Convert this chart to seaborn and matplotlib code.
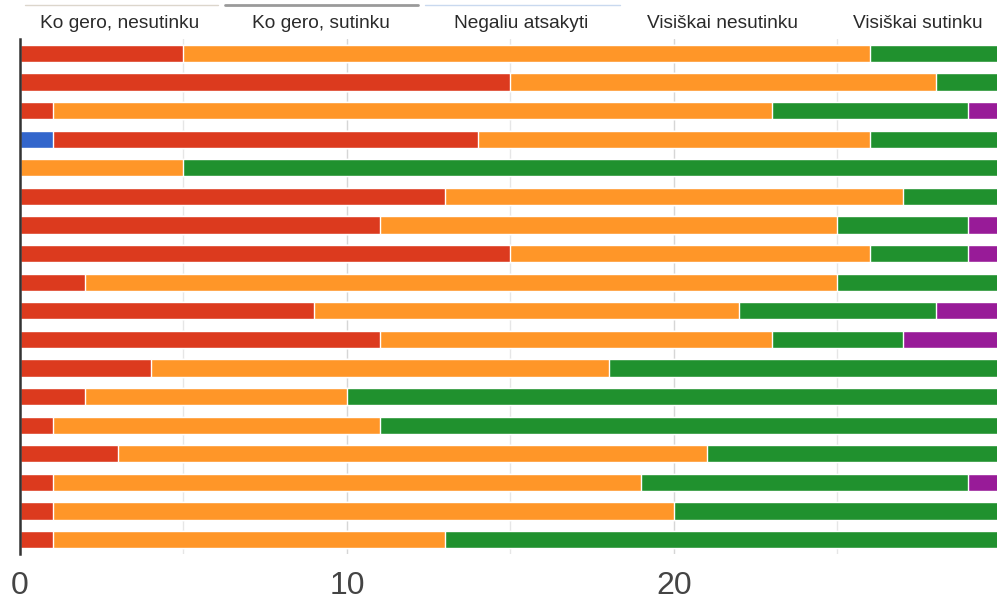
import numpy as np
import pandas as pd
import matplotlib
matplotlib.use("Agg")
import matplotlib.pyplot as plt
from matplotlib.lines import Line2D
import seaborn as sns

sns.set_style("white")
plt.rcParams["font.family"] = ["Liberation Sans", "DejaVu Sans"]

rows = [f"K{i}" for i in range(1, 19)]
series = ["Ko gero, nesutinku", "Ko gero, sutinku", "Negaliu atsakyti",
          "Visiškai nesutinku", "Visiškai sutinku"]
colors = ["#3366cc", "#dc3a1e", "#ff9628", "#20912e", "#981b98"]

ko_gero_nesutinku = [0, 0, 0, 1, 0, 0, 0, 0, 0, 0, 0, 0, 0, 0, 0, 0, 0, 0]
ko_gero_sutinku   = [5, 15, 1, 13, 0, 13, 11, 15, 2, 9, 11, 4, 2, 1, 3, 1, 1, 1]
negaliu_atsakyti  = [21, 13, 22, 12, 5, 14, 14, 11, 23, 13, 12, 14, 8, 10, 18, 18, 19, 12]
visiskai_nesutinku = [5, 3, 6, 5, 26, 4, 4, 3, 6, 6, 4, 13, 21, 20, 10, 10, 11, 18]
visiskai_sutinku  = [0, 0, 2, 0, 0, 0, 2, 2, 0, 3, 4, 0, 0, 0, 0, 2, 0, 0]

vals = np.array([ko_gero_nesutinku, ko_gero_sutinku, negaliu_atsakyti,
                 visiskai_nesutinku, visiskai_sutinku], dtype=float)
cum = np.cumsum(vals, axis=0)

fig = plt.figure(figsize=(9.97, 5.99), dpi=100)
ax = fig.add_axes([20 / 997, 45 / 599, 977 / 997, 515 / 599])

for i in reversed(range(len(series))):
    sns.barplot(x=cum[i], y=rows, orient="h", color=colors[i], saturation=1,
                width=0.6, edgecolor="white", linewidth=1, ax=ax)

ax.set_xlim(0, 29.88)
ax.set_ylim(17.5, -0.5)
ax.set_xticks([0, 10, 20])
ax.set_xticks([5, 15, 25], minor=True)
ax.set_xticklabels(["0", "10", "20"], fontsize=23, color="#444444")
ax.set_yticks([])
ax.set_xlabel("")
ax.set_ylabel("")
ax.grid(axis="x", which="major", color="#d6d6d6", lw=1)
ax.grid(axis="x", which="minor", color="#e6e6e6", lw=1)
ax.set_axisbelow(True)
ax.tick_params(axis="x", which="both", length=0, pad=12)
for s in ["top", "right", "bottom"]:
    ax.spines[s].set_visible(False)
ax.spines["left"].set_color("#333333")
ax.spines["left"].set_linewidth(1.8)

centers = [120, 321, 521, 722, 918]
for lab, cx in zip(series, centers):
    fig.text(cx / 997, 1 - 23 / 599, lab, ha="center", va="center",
             fontsize=13.8, color="#2a2a2a")

for (x0, x1, c, lw) in [(25, 218, "#dcd6cc", 1), (225, 418, "#9a9a9a", 2),
                        (425, 620, "#c9d9ef", 1)]:
    fig.add_artist(Line2D([x0 / 997, x1 / 997], [1 - 5 / 599, 1 - 5 / 599],
                          color=c, lw=lw, transform=fig.transFigure))

fig.savefig("out.png", dpi=100)
